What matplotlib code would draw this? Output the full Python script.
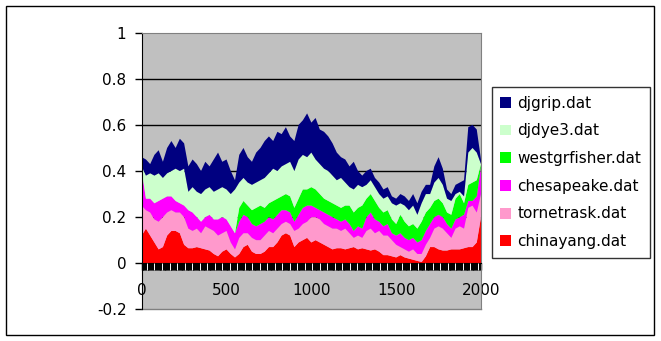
import numpy as np
import matplotlib
matplotlib.use("Agg")
import matplotlib.pyplot as plt
from matplotlib.patches import Rectangle

plt.rcParams['font.family'] = ['DejaVu Sans']

# years sampled every 25 years
years = list(range(0, 2001, 25))

chinayang = [0.12, 0.15, 0.12, 0.09, 0.06, 0.07, 0.12, 0.14, 0.14, 0.13,
             0.08, 0.065, 0.065, 0.07, 0.065, 0.06, 0.055, 0.04, 0.03, 0.05,
             0.06, 0.04, 0.025, 0.04, 0.07, 0.08, 0.05, 0.04, 0.04, 0.05,
             0.07, 0.07, 0.09, 0.12, 0.13, 0.12, 0.07, 0.09, 0.10, 0.11,
             0.09, 0.10, 0.09, 0.08, 0.07, 0.06, 0.065, 0.065, 0.06, 0.065,
             0.07, 0.06, 0.065, 0.06, 0.055, 0.06, 0.05, 0.035, 0.035, 0.03,
             0.025, 0.035, 0.025, 0.02, 0.015, 0.01, 0.005, 0.03, 0.07, 0.07,
             0.06, 0.055, 0.055, 0.06, 0.06, 0.06, 0.065, 0.07, 0.07, 0.09,
             0.20]
tornetrask = [0.13, 0.08, 0.10, 0.10, 0.12, 0.13, 0.10, 0.09, 0.08, 0.09,
              0.12, 0.085, 0.075, 0.08, 0.065, 0.10, 0.095, 0.10, 0.09, 0.08,
              0.08, 0.05, 0.035, 0.07, 0.06, 0.05, 0.06, 0.06, 0.06, 0.07,
              0.07, 0.06, 0.06, 0.05, 0.05, 0.05, 0.07, 0.06, 0.07, 0.07,
              0.11, 0.10, 0.10, 0.09, 0.09, 0.09, 0.085, 0.075, 0.09, 0.065,
              0.04, 0.06, 0.045, 0.08, 0.095, 0.07, 0.09, 0.085, 0.085, 0.07,
              0.055, 0.035, 0.035, 0.03, 0.045, 0.03, 0.035, 0.05, 0.04, 0.08,
              0.10, 0.095, 0.075, 0.05, 0.09, 0.10, 0.085, 0.17, 0.18, 0.13,
              0.10]
chesapeake = [0.15, 0.05, 0.06, 0.07, 0.09, 0.08, 0.07, 0.06, 0.05, 0.04,
              0.05, 0.08, 0.08, 0.05, 0.05, 0.04, 0.06, 0.05, 0.07, 0.07,
              0.05, 0.07, 0.07, 0.07, 0.08, 0.07, 0.06, 0.06, 0.07, 0.06,
              0.06, 0.06, 0.06, 0.06, 0.05, 0.05, 0.04, 0.06, 0.07, 0.07,
              0.05, 0.04, 0.04, 0.05, 0.05, 0.05, 0.04, 0.04, 0.04, 0.04,
              0.03, 0.04, 0.04, 0.06, 0.07, 0.06, 0.04, 0.04, 0.05, 0.03,
              0.04, 0.06, 0.05, 0.05, 0.05, 0.05, 0.06, 0.06, 0.06, 0.05,
              0.05, 0.05, 0.04, 0.04, 0.04, 0.04, 0.06, 0.03, 0.02, 0.07,
              0.12]
westgrfisher = [0, 0, 0, 0, 0, 0, 0, 0, 0, 0,
                0, 0, 0, 0, 0, 0, 0, 0, 0, 0,
                0, 0, 0, 0.06, 0.06, 0.05, 0.06, 0.08, 0.08, 0.06,
                0.06, 0.08, 0.07, 0.06, 0.07, 0.07, 0.06, 0.07, 0.08, 0.07,
                0.08, 0.08, 0.07, 0.06, 0.06, 0.06, 0.06, 0.06, 0.06, 0.08,
                0.08, 0.08, 0.10, 0.08, 0.08, 0.08, 0.06, 0.06, 0.06, 0.06,
                0.05, 0.08, 0.07, 0.06, 0.06, 0.06, 0.08, 0.08, 0.07, 0.07,
                0.07, 0.06, 0.05, 0.06, 0.09, 0.10, 0.05, 0.07, 0.08, 0.07,
                0.01]
djdye3 = [0.02, 0.10, 0.11, 0.12, 0.12, 0.09, 0.10, 0.11, 0.14, 0.14,
          0.16, 0.08, 0.11, 0.11, 0.12, 0.12, 0.12, 0.12, 0.13, 0.13,
          0.13, 0.14, 0.19, 0.11, 0.10, 0.10, 0.11, 0.11, 0.11, 0.13,
          0.13, 0.14, 0.12, 0.13, 0.13, 0.15, 0.16, 0.17, 0.15, 0.14,
          0.15, 0.13, 0.13, 0.13, 0.13, 0.12, 0.11, 0.13, 0.10, 0.08,
          0.10, 0.10, 0.08, 0.06, 0.06, 0.06, 0.06, 0.06, 0.06, 0.07,
          0.08, 0.05, 0.07, 0.07, 0.08, 0.06, 0.08, 0.08, 0.06, 0.08,
          0.09, 0.08, 0.06, 0.06, 0.02, 0.01, 0.03, 0.14, 0.15, 0.12,
          0.0]
djgrip = [0.04, 0.07, 0.04, 0.09, 0.10, 0.07, 0.11, 0.13, 0.09, 0.14,
          0.11, 0.11, 0.12, 0.12, 0.10, 0.12, 0.09, 0.14, 0.16, 0.11,
          0.13, 0.10, 0.04, 0.12, 0.13, 0.11, 0.10, 0.13, 0.14, 0.16,
          0.16, 0.12, 0.17, 0.14, 0.16, 0.11, 0.13, 0.15, 0.15, 0.19,
          0.13, 0.18, 0.15, 0.16, 0.15, 0.14, 0.12, 0.09, 0.10, 0.09,
          0.12, 0.06, 0.05, 0.06, 0.05, 0.04, 0.05, 0.04, 0.04, 0.03,
          0.03, 0.04, 0.04, 0.04, 0.05, 0.05, 0.05, 0.04, 0.04, 0.07,
          0.09, 0.07, 0.04, 0.03, 0.04, 0.04, 0.07, 0.11, 0.10, 0.10,
          0.02]

series = [chinayang, tornetrask, chesapeake, westgrfisher, djdye3, djgrip]
labels = ['chinayang.dat', 'tornetrask.dat', 'chesapeake.dat',
          'westgrfisher.dat', 'djdye3.dat', 'djgrip.dat']
colors = ['#FF0000', '#FF99CC', '#FF00FF', '#00FF00', '#CCFFCC', '#000080']

fig = plt.figure(figsize=(6.61, 3.41), dpi=100)
ax = fig.add_axes([141.7/661, 1-309.3/341, (481-141.7)/661, (309.3-32.7)/341])
ax.set_facecolor('#C0C0C0')

ax.hlines([0.2, 0.4, 0.6, 0.8], 0, 2000, colors='black', lw=1, zorder=0.5)
polys = ax.stackplot(years, *series, colors=colors, labels=labels, lw=0, zorder=1)

ax.set_xlim(0, 2000)
ax.set_ylim(-0.2, 1)
ax.set_yticks(np.arange(-0.2, 1.01, 0.2))
ax.yaxis.set_major_formatter(plt.FuncFormatter(lambda v, p: '%g' % round(v, 1)))
ax.set_xticks([0, 500, 1000, 1500, 2000])

for s in ['top', 'right']:
    ax.spines[s].set_color('#808080')
ax.spines['left'].set_color('black')
ax.spines['bottom'].set_position(('data', 0))
ax.spines['bottom'].set_color('black')
ax.axhline(-0.2, color='#808080', lw=1, clip_on=False)

ax.tick_params(axis='y', direction='out', length=5, width=1, pad=6, labelsize=11)
ax.tick_params(axis='x', direction='out', length=5, width=1, pad=9, labelsize=11)
ax.set_xticks(np.arange(0, 2001, 5), minor=True)
ax.tick_params(axis='x', which='minor', length=5, width=1, color='black')
ax.vlines(np.arange(31, 2000, 44.3), -0.028, 0, colors='white', lw=0.7, clip_on=False, zorder=5)

handles, labs = ax.get_legend_handles_labels()
leg = fig.legend(handles[::-1], labs[::-1], loc='upper left',
                 bbox_to_anchor=(492/661, 1-87.3/341), fontsize=11,
                 frameon=True, fancybox=False, edgecolor='black',
                 handlelength=0.72, handleheight=0.72, handletextpad=0.4,
                 labelspacing=0.83, borderpad=0.55, borderaxespad=0)
leg.get_frame().set_linewidth(1)

fig.patches.append(Rectangle((6/661, 6/341), 648/661, 329/341, transform=fig.transFigure,
                             fill=False, edgecolor='black', lw=1))

fig.savefig('out.png', dpi=100, facecolor='white')
